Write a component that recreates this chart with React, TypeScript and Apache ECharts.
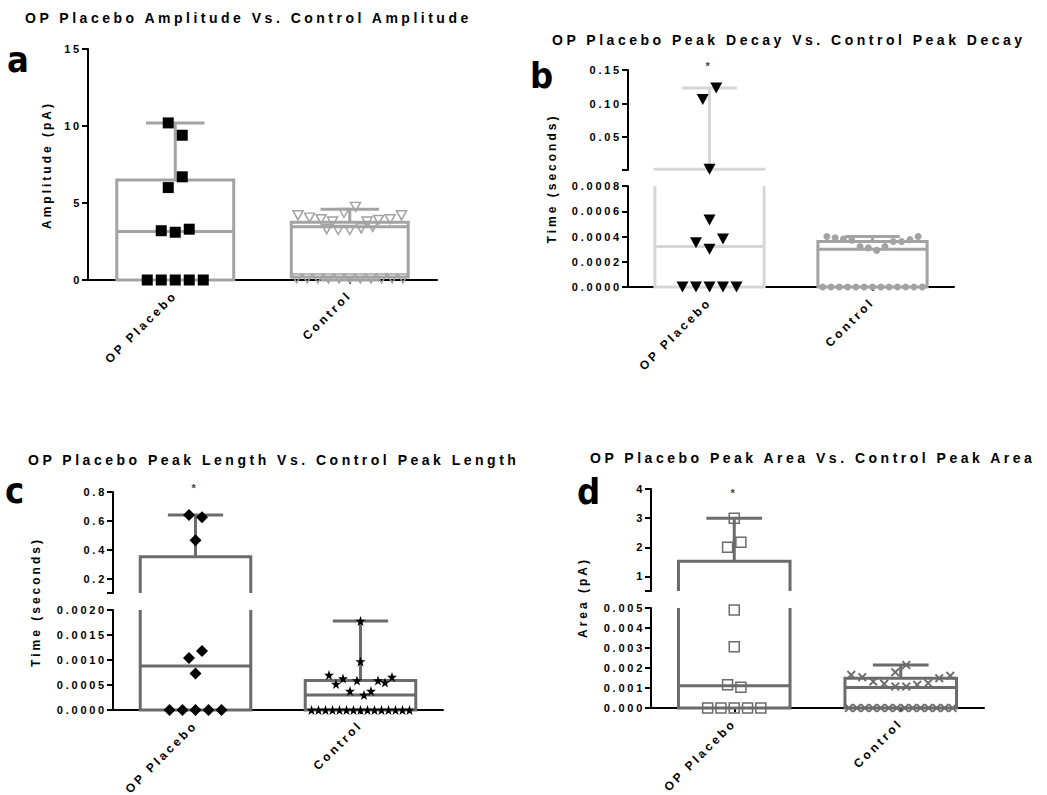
import React, { useEffect, useRef } from "react";
import * as echarts from "echarts";

// ---------------- DATA ----------------
const categories = ["OP Placebo", "Control"];

// Each group: clusters of values (points at similar heights), listed left to right
// Panel a: Amplitude (pA)
const ampPlacebo = [[0, 0, 0, 0, 0], [3.2, 3.1, 3.3], [6.0, 6.7], [10.2, 9.4]];
const ampControl = [
  [0.1, 0.1, 0.1, 0.1, 0.1, 0.1, 0.1, 0.1, 0.1, 0.1, 0.1],
  [3.3, 3.25, 3.25, 3.35, 3.45],
  [4.2, 4.05, 3.95, 3.8, 4.35, 4.75, 3.8, 3.9, 3.95, 4.2],
];
// box stats: [q1, median, q3, min, max]
const ampBoxes = [
  [0, 3.15, 6.5, 0, 10.2],
  [0.2, 3.46, 3.75, 0, 4.6],
];

// Panel b: Peak decay time (seconds)
const decayPlacebo = [[0, 0, 0, 0, 0], [0.00035, 0.0003, 0.00038], [0.00053], [0.002], [0.106, 0.123]];
const decayControl = [
  [0, 0, 0, 0, 0, 0, 0, 0, 0, 0, 0, 0, 0],
  [0.0004, 0.00039, 0.00038, 0.00037, 0.00032, 0.00031, 0.00029, 0.00032, 0.00036, 0.00036, 0.000375, 0.0004],
];
const decayBoxes = [
  [0, 0.00032, 0.002, 0, 0.123],
  [0, 0.0003, 0.00036, 0, 0.0004],
];

// Panel c: Peak length time (seconds)
const lengthPlacebo = [[0, 0, 0, 0, 0], [0.00073], [0.00104, 0.00118], [0.465], [0.64, 0.625]];
const lengthControl = [
  [0, 0, 0, 0, 0, 0, 0, 0, 0, 0, 0, 0, 0, 0, 0],
  [0.0007, 0.00052, 0.00063, 0.00038, 0.00059, 0.0003, 0.00038, 0.00059, 0.00055, 0.00066],
  [0.00097],
  [0.00178],
];
const lengthBoxes = [
  [0, 0.00088, 0.352, 0, 0.64],
  [0, 0.0003, 0.00059, 0, 0.00178],
];

// Panel d: Peak area (pA)
const areaPlacebo = [[0, 0, 0, 0, 0], [0.00116, 0.00104], [0.00306], [0.0049], [2.0, 2.17], [3.0]];
const areaControl = [
  [0, 0, 0, 0, 0, 0, 0, 0, 0, 0, 0, 0, 0, 0],
  [0.00166, 0.00154, 0.00132, 0.00121, 0.00107, 0.00107, 0.00116, 0.00124, 0.00149, 0.00161],
  [0.00179, 0.00215],
];
const areaBoxes = [
  [0, 0.00111, 1.52, 0, 3.0],
  [0, 0.00102, 0.00149, 0, 0.00215],
];

const titles = [
  "OP Placebo Amplitude Vs. Control Amplitude",
  "OP Placebo Peak Decay Vs. Control Peak Decay",
  "OP Placebo Peak Length Vs. Control Peak Length",
  "OP Placebo Peak Area Vs. Control Peak Area",
];
const axisNames = ["Amplitude (pA)", "Time (seconds)", "Time (seconds)", "Area (pA)"];
const panelLetters = ["a", "b", "c", "d"];

// ---------------- STYLE / LAYOUT ----------------
const FONT = "'Liberation Sans', Arial, Helvetica, sans-serif";
const LETTER_FONT = "'Liberation Sans Narrow', 'DejaVu Sans Condensed', 'Liberation Sans', sans-serif";
const LIGHT = "#a3a3a3";
const PALE = "#d6d6d6";
const DARK = "#6b6b6b";
const STAR =
  "path://M50,0 L61.8,35.1 L98.1,35.1 L68.7,56.8 L79.4,91 L50,70 L20.6,91 L31.3,56.8 L1.9,35.1 L38.2,35.1 Z";
const CROSS =
  "path://M1.5,0 L5,3.5 L8.5,0 L10,1.5 L6.5,5 L10,8.5 L8.5,10 L5,6.5 L1.5,10 L0,8.5 L3.5,5 L0,1.5 Z";

type Seg = {
  top: number;
  height: number;
  min: number;
  max: number;
  interval?: number;
  labels?: number[];
  ticks?: number[];
  decimals: number;
};

const panels: any[] = [
  {
    left: 88,
    width: 349,
    segs: [{ top: 49, height: 231, min: 0, max: 15, interval: 5, decimals: 0 }],
    groups: [ampPlacebo, ampControl],
    boxes: ampBoxes,
    boxColors: [LIGHT, LIGHT],
    markers: [
      { symbol: "rect", size: 11, color: "#000", spacing: 14 },
      { symbol: "triangle", rotate: 180, size: [10, 9], color: "rgba(0,0,0,0)", border: LIGHT, borderWidth: 1.5, spacing: 11.5 },
    ],
    title: { x: 25, y: 18 },
    letter: { x: 7, y: 59.5 },
    name: { x: 47, y: 165 },
  },
  {
    left: 628,
    width: 326,
    segs: [
      { top: 70, height: 100, min: 0.001, max: 0.15, labels: [0.05, 0.1, 0.15], ticks: [0.001, 0.05, 0.1, 0.15], decimals: 2 },
      { top: 186, height: 101, min: 0, max: 0.0008, interval: 0.0002, decimals: 4 },
    ],
    groups: [decayPlacebo, decayControl],
    boxes: decayBoxes,
    boxColors: [PALE, LIGHT],
    markers: [
      { symbol: "triangle", rotate: 180, size: [12, 11], color: "#000", spacing: 13.5 },
      { symbol: "circle", size: 7, color: LIGHT, spacing: 8.3 },
    ],
    title: { x: 552, y: 39.5 },
    letter: { x: 530, y: 75.5 },
    name: { x: 552, y: 178.5 },
    star: { x: 709, y: 66 },
  },
  {
    left: 113,
    width: 330,
    segs: [
      { top: 492, height: 101, min: 0.1, max: 0.8, labels: [0.2, 0.4, 0.6, 0.8], ticks: [0.1, 0.2, 0.4, 0.6, 0.8], decimals: 1 },
      { top: 610, height: 100, min: 0, max: 0.002, interval: 0.0005, decimals: 4 },
    ],
    groups: [lengthPlacebo, lengthControl],
    boxes: lengthBoxes,
    boxColors: [DARK, DARK],
    markers: [
      { symbol: "diamond", size: [12, 12], color: "#000", spacing: 13 },
      { symbol: STAR, size: 10, color: "#000", spacing: 7 },
    ],
    title: { x: 28, y: 460 },
    letter: { x: 5, y: 490.5 },
    name: { x: 36, y: 602 },
    star: { x: 195, y: 487.5 },
  },
  {
    left: 651,
    width: 333,
    segs: [
      { top: 489, height: 102, min: 0.5, max: 4, labels: [1, 2, 3, 4], ticks: [0.5, 1, 2, 3, 4], decimals: 0 },
      { top: 608, height: 100, min: 0, max: 0.005, interval: 0.001, decimals: 3 },
    ],
    groups: [areaPlacebo, areaControl],
    boxes: areaBoxes,
    boxColors: [DARK, DARK],
    markers: [
      { symbol: "rect", size: 10, color: "rgba(0,0,0,0)", border: DARK, borderWidth: 1.5, spacing: 13.3 },
      { symbol: CROSS, size: 9, color: DARK, spacing: 11 },
    ],
    title: { x: 590, y: 458 },
    letter: { x: 577, y: 491.5 },
    name: { x: 582.5, y: 597.5 },
    star: { x: 734, y: 493 },
  },
];

function makeBoxRenderer(lo: number, hi: number, colors: string[]) {
  return (params: any, api: any) => {
    const cat = api.value(0);
    const q1 = api.value(1);
    const med = api.value(2);
    const q3 = api.value(3);
    const mn = api.value(4);
    const mx = api.value(5);
    const color = colors[params.dataIndex];
    const band = api.size([1, 0])[0];
    const half = band * 0.335;
    const capHalf = half / 2;
    const cx = api.coord([cat, lo])[0];
    const clamp = (v: number) => Math.min(Math.max(v, lo), hi);
    const py = (v: number) => api.coord([cat, clamp(v)])[1];
    const inR = (v: number) => v >= lo && v <= hi;
    const style = { stroke: color, lineWidth: 3, fill: null, lineJoin: "miter" };
    const ch: any[] = [];
    const line = (x1: number, y1: number, x2: number, y2: number) =>
      ch.push({ type: "line", shape: { x1, y1, x2, y2 }, style });
    const l = cx - half;
    const r = cx + half;
    if (q3 >= lo && q1 <= hi) {
      const yb = py(q1);
      const yt = py(q3);
      if (inR(q1) && inR(q3)) {
        ch.push({ type: "polygon", shape: { points: [[l, yb], [l, yt], [r, yt], [r, yb]] }, style });
      } else if (inR(q3)) {
        ch.push({ type: "polyline", shape: { points: [[l, yb], [l, yt], [r, yt], [r, yb]] }, style });
      } else if (inR(q1)) {
        ch.push({ type: "polyline", shape: { points: [[l, yt], [l, yb], [r, yb], [r, yt]] }, style });
      } else {
        line(l, yb, l, yt);
        line(r, yb, r, yt);
      }
    }
    if (inR(med)) line(l, py(med), r, py(med));
    if (mx > q3 && mx >= lo && q3 <= hi) {
      line(cx, py(q3), cx, py(mx));
      if (inR(mx)) line(cx - capHalf, py(mx), cx + capHalf, py(mx));
    }
    if (mn < q1 && q1 >= lo && mn <= hi) {
      line(cx, py(q1), cx, py(mn));
      if (inR(mn)) line(cx - capHalf, py(mn), cx + capHalf, py(mn));
    }
    return { type: "group", children: ch };
  };
}

function buildOption() {
  const grids: any[] = [];
  const xAxes: any[] = [];
  const yAxes: any[] = [];
  const series: any[] = [];
  const graphics: any[] = [];

  panels.forEach((p, pi) => {
    const boxWidth = (p.width / 2) * 0.67;
    p.segs.forEach((s: Seg, si: number) => {
      const isLower = si === p.segs.length - 1;
      const gi = grids.length;
      grids.push({ left: p.left, top: s.top, width: p.width, height: s.height, containLabel: false });
      xAxes.push({
        type: "category",
        gridIndex: gi,
        data: categories,
        boundaryGap: true,
        axisLine: { show: isLower, onZero: false, lineStyle: { color: "#000", width: 2 } },
        axisTick: { show: isLower, alignWithLabel: true, length: 4, lineStyle: { color: "#000", width: 2 } },
        axisLabel: {
          show: isLower,
          rotate: 45,
          margin: 13,
          fontSize: 12,
          fontWeight: "bold",
          fontFamily: FONT,
          color: "#000",
          interval: 0,
        },
        splitLine: { show: false },
      });
      const yAxis: any = {
        type: "value",
        gridIndex: gi,
        min: s.min,
        max: s.max,
        axisLine: { show: true, onZero: false, lineStyle: { color: "#000", width: 2 } },
        axisTick: { show: true, length: 6, lineStyle: { color: "#000", width: 2 } },
        axisLabel: {
          fontSize: 11,
          fontWeight: "bold",
          fontFamily: FONT,
          color: "#000",
          margin: 6,
          formatter: (v: number) => v.toFixed(s.decimals),
        },
        splitLine: { show: false },
      };
      if (s.interval) yAxis.interval = s.interval;
      if (s.labels) {
        yAxis.axisLabel.customValues = s.labels;
        yAxis.axisTick.customValues = s.ticks;
      }
      yAxes.push(yAxis);

      series.push({
        type: "custom",
        xAxisIndex: gi,
        yAxisIndex: gi,
        silent: true,
        z: 3,
        clip: false,
        data: p.boxes.map((b: number[], ci: number) => [ci, ...b]),
        renderItem: makeBoxRenderer(s.min, s.max, p.boxColors),
      });

      p.groups.forEach((rows: number[][], ci: number) => {
        const m = p.markers[ci];
        const data: any[] = [];
        rows.forEach((row) => {
          const n = row.length;
          const sp = Math.min(m.spacing, boxWidth / n);
          row.forEach((v, i) => {
            if (v < s.min || v > s.max) return;
            data.push({ value: [ci, v], symbolOffset: [(i - (n - 1) / 2) * sp, 0] });
          });
        });
        series.push({
          type: "scatter",
          xAxisIndex: gi,
          yAxisIndex: gi,
          silent: true,
          clip: false,
          z: 4,
          symbol: m.symbol,
          symbolSize: m.size,
          symbolRotate: m.rotate || 0,
          itemStyle: {
            color: m.color,
            borderColor: m.border || m.color,
            borderWidth: m.borderWidth || 0,
            opacity: 1,
          },
          data,
        });
      });
    });

    graphics.push({
      type: "text",
      x: p.title.x,
      y: p.title.y,
      silent: true,
      style: {
        text: titles[pi],
        fontSize: 14,
        fontWeight: "bold",
        fontFamily: FONT,
        fill: "#000",
        align: "left",
        verticalAlign: "middle",
      },
    });
    graphics.push({
      type: "text",
      x: p.letter.x,
      y: p.letter.y,
      silent: true,
      style: {
        text: panelLetters[pi],
        fontSize: 36,
        fontWeight: "bold",
        fontFamily: LETTER_FONT,
        fill: "#000",
        align: "left",
        verticalAlign: "middle",
      },
    });
    graphics.push({
      type: "text",
      x: p.name.x,
      y: p.name.y,
      rotation: Math.PI / 2,
      silent: true,
      style: {
        text: axisNames[pi],
        fontSize: 12,
        fontWeight: "bold",
        fontFamily: FONT,
        fill: "#000",
        align: "center",
        verticalAlign: "middle",
      },
    });
    if (p.star) {
      graphics.push({
        type: "text",
        x: p.star.x,
        y: p.star.y,
        silent: true,
        style: {
          text: "*",
          fontSize: 11,
          fontWeight: "bold",
          fontFamily: FONT,
          fill: "#444",
          align: "center",
          verticalAlign: "middle",
        },
      });
    }
  });

  return {
    animation: false,
    backgroundColor: "#fff",
    textStyle: { fontFamily: FONT },
    grid: grids,
    xAxis: xAxes,
    yAxis: yAxes,
    series,
    graphic: { elements: graphics },
  };
}

export default function App() {
  const ref = useRef<HTMLDivElement>(null);
  useEffect(() => {
    if (!ref.current) return;
    const chart = echarts.init(ref.current, null, { renderer: "svg" });
    chart.setOption(buildOption() as any);
    return () => chart.dispose();
  }, []);
  return (
    <>
      <style>{`#chart-root svg text { letter-spacing: 0.25em; }`}</style>
      <div
        id="chart-root"
        ref={ref}
        style={{ position: "fixed", left: 0, top: 0, width: 1047, height: 795, background: "#fff" }}
      />
    </>
  );
}
